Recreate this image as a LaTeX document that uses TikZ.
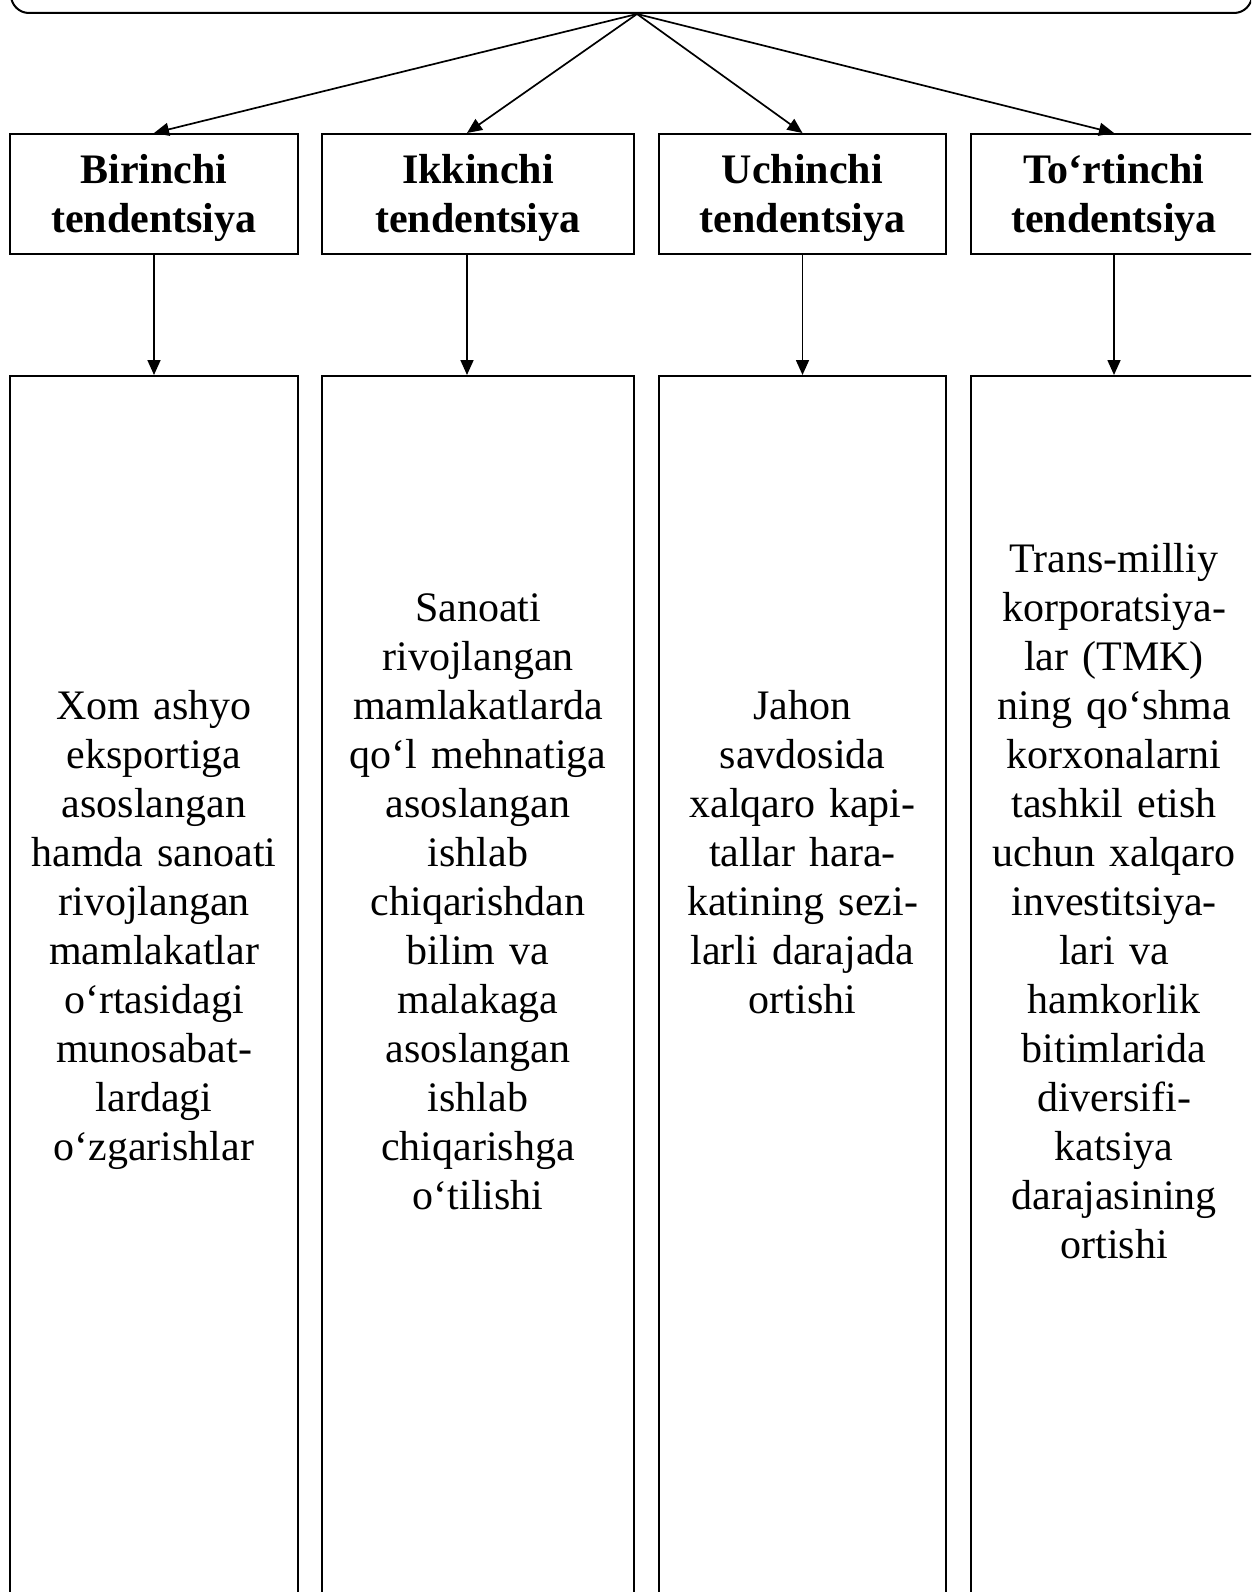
\documentclass[tikz,border=0pt]{standalone}
\usepackage{fontspec}
\setmainfont{Liberation Serif}
\usetikzlibrary{positioning, arrows.meta}

\begin{document}
\begin{tikzpicture}[x=1pt, y=-1pt,
  every node/.style={font=\fontsize{42}{49}\selectfont},
  headbox/.style={draw, line width=2pt, minimum height=120pt, inner sep=0pt, align=center,
    font=\bfseries\fontsize{42}{49}\selectfont},
  lowbox/.style={draw, line width=2pt, minimum height=1300pt, inner sep=0pt, anchor=north},
  bodytext/.style={align=center, text width=280pt, inner sep=0pt, anchor=base},
  arr/.style={-{Triangle[length=15pt, width=13pt]}, line width=1.7pt}]

\useasboundingbox (0,0) rectangle (1251,1592);
\clip (0,0) rectangle (1251,1592);

% Top box (only its lower edge is seen)
\node[draw, line width=2pt, rounded corners=18pt, minimum width=1241pt,
  minimum height=200pt, anchor=south] (top) at (631.5,14) {};
\coordinate (apex) at (637,14);

% Tendency boxes, the boxes below them and the arrows
\foreach \i/\xc/\w/\dx/\lab in {
  1/154/288/0/Birinchi,
  2/478/312/-11/Ikkinchi,
  3/802.5/287/0/Uchinchi,
  4/1114/286/0/To‘rtinchi%
} {
  \node[headbox, minimum width=\w pt] (h\i) at (\xc,194) {\rule{0pt}{38pt}\lab\\tendentsiya};
  \node[lowbox, minimum width=\w pt] (b\i) at (\xc,375) {};
  \draw[arr] (apex) -- ([xshift=\dx pt]h\i.north);
  \draw[arr] ([xshift=\dx pt]h\i.south) -- ([xshift=\dx pt]b\i.north);
}

% Texts of the lower boxes
\node[bodytext] (t1) at (154,719) {Xom ashyo\\eksportiga\\asoslangan\\hamda sanoati\\rivojlangan\\mamlakatlar\\o‘rtasidagi\\munosabat-\\lardagi\\o‘zgarishlar};
\node[bodytext] (t2) at (478,621) {Sanoati\\rivojlangan\\mamlakatlarda\\qo‘l mehnatiga\\asoslangan\\ishlab\\chiqarishdan\\bilim va\\malakaga\\asoslangan\\ishlab\\chiqarishga\\o‘tilishi};
\node[bodytext] (t3) at (802.5,719) {Jahon\\savdosida\\xalqaro kapi-\\tallar hara-\\katining sezi-\\larli darajada\\ortishi};
\node[bodytext] (t4) at (1114,572) {Trans-milliy\\korporatsiya-\\lar (TMK)\\ning qo‘shma\\korxonalarni\\tashkil etish\\uchun xalqaro\\investitsiya-\\lari va\\hamkorlik\\bitimlarida\\diversifi-\\katsiya\\darajasining\\ortishi};

\end{tikzpicture}
\end{document}
